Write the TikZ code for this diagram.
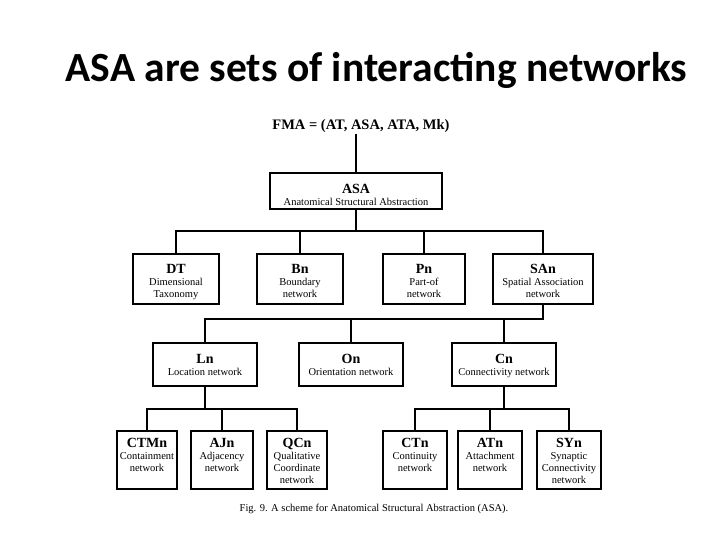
\documentclass[tikz,border=0pt]{standalone}
\usepackage{fontspec}
\setmainfont{Liberation Serif}
\newfontfamily\titlefont{Carlito}
\usepackage{tikz}
\usetikzlibrary{positioning}
\newcommand{\NwHead}[1]{{\fontsize{14}{14}\selectfont\bfseries #1}}
\newcommand{\NwText}[2]{\begin{tabular}[t]{@{}c@{}}\NwHead{#1}\\#2\end{tabular}}
\tikzset{ASAtree/.style = {
		x=1pt, y=-1pt, line width=1.8pt,
		every node/.style = {inner sep=0pt},
		netbox/.style = {rectangle, draw, anchor=north,
			font=\fontsize{10.5}{12}\selectfont},
		lvone/.style = {netbox, text height=21pt, text depth=15pt},
		lvtwo/.style = {netbox, text height=20pt, text depth=30pt},
		lvthree/.style = {netbox, text height=21pt, text depth=22pt},
		lvfour/.style = {netbox, text height=17pt, text depth=41pt},
	}% end of ASAtree style
}

\begin{document}
\begin{tikzpicture}[ASAtree]
  \useasboundingbox (0,0) rectangle (720,540);
  \node[font=\titlefont\bfseries\fontsize{41.5}{50}\selectfont, anchor=base] (title) at (376.5,82) {ASA are sets of interacting networks};
  \node[font=\fontsize{14.5}{15}\selectfont\bfseries, anchor=base] (FMA) at (361,130) {FMA = (AT, ASA, ATA, Mk)};

  \node[lvone, minimum width=172pt] (ASA) at (356,172) {\NwText{ASA}{Anatomical Structural Abstraction}};

  \node[lvtwo, minimum width=86pt] (DT) at (176,253) {\NwText{DT}{Dimensional\\Taxonomy}};
  \node[lvtwo, minimum width=86pt] (Bn) at (300,253) {\NwText{Bn}{Boundary\\network}};
  \node[lvtwo, minimum width=82pt] (Pn) at (424,253) {\NwText{Pn}{Part-of\\network}};
  \node[lvtwo, minimum width=100pt] (SAn) at (543,253) {\NwText{SAn}{Spatial Association\\network}};

  \node[lvthree, minimum width=104pt] (Ln) at (205,342) {\NwText{Ln}{Location network}};
  \node[lvthree, minimum width=104pt] (On) at (351,342) {\NwText{On}{Orientation network}};
  \node[lvthree, minimum width=104pt] (Cn) at (504,342) {\NwText{Cn}{Connectivity network}};

  \node[lvfour, minimum width=60pt] (CTMn) at (147,430) {\NwText{CTMn}{Containment\\network}};
  \node[lvfour, minimum width=62pt] (AJn) at (222,430) {\NwText{AJn}{Adjacency\\network}};
  \node[lvfour, minimum width=60pt] (QCn) at (297,430) {\NwText{QCn}{Qualitative\\Coordinate\\network}};
  \node[lvfour, minimum width=64pt] (CTn) at (415,430) {\NwText{CTn}{Continuity\\network}};
  \node[lvfour, minimum width=64pt] (ATn) at (490,430) {\NwText{ATn}{Attachment\\network}};
  \node[lvfour, minimum width=64pt] (SYn) at (569,430) {\NwText{SYn}{Synaptic\\Connectivity\\network}};

  \node[font=\fontsize{10.5}{12}\selectfont, anchor=base] (caption) at (374,511) {Fig. 9. A scheme for Anatomical Structural Abstraction (ASA).};

  \coordinate (busA) at (0,231);
  \coordinate (busB) at (0,319);
  \coordinate (busC) at (0,409);

  \draw (ASA.north) -- (ASA.north |- FMA.south);
  \draw (ASA.south) -- (ASA.south |- busA);
  \draw (DT.north) -- (DT.north |- busA) -- (SAn.north |- busA) -- (SAn.north);
  \draw (Bn.north) -- (Bn.north |- busA);
  \draw (Pn.north) -- (Pn.north |- busA);

  \draw (SAn.south) -- (SAn.south |- busB) -- (Ln.north |- busB) -- (Ln.north);
  \draw (On.north) -- (On.north |- busB);
  \draw (Cn.north) -- (Cn.north |- busB);

  \draw (Ln.south) -- (Ln.south |- busC);
  \draw (CTMn.north) -- (CTMn.north |- busC) -- (QCn.north |- busC) -- (QCn.north);
  \draw (AJn.north) -- (AJn.north |- busC);
  \draw (Cn.south) -- (Cn.south |- busC);
  \draw (CTn.north) -- (CTn.north |- busC) -- (SYn.north |- busC) -- (SYn.north);
  \draw (ATn.north) -- (ATn.north |- busC);
\end{tikzpicture}
\end{document}
